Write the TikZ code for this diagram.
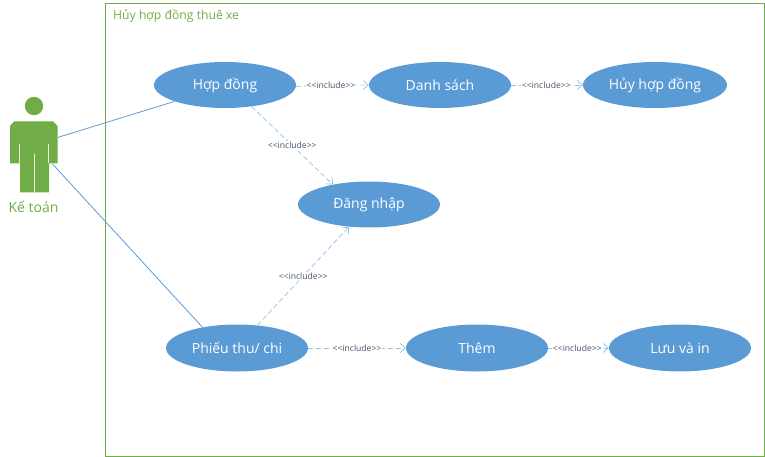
\documentclass[tikz,border=0pt]{standalone}
\usepackage{fontspec}
\setmainfont{Open Sans}
\usetikzlibrary{shapes.geometric,arrows.meta}
\definecolor{ucblue}{HTML}{5B9BD5}
\definecolor{ucgreen}{HTML}{70AD47}
\definecolor{lblcol}{HTML}{44546A}
\tikzset{
  uc/.style={ellipse,fill=ucblue,text=white,inner sep=0pt,minimum width=142pt,minimum height=46pt,font=\fontsize{14}{16}\selectfont},
  inc/.style={draw=ucblue!65,line width=0.7pt,dash pattern=on 5pt off 3pt,-{Straight Barb[length=5pt,width=9pt]}},
  lbl/.style={fill=white,inner sep=1pt,text=lblcol,font=\fontsize{8.6}{10}\selectfont},
  assoc/.style={draw=ucblue,line width=0.8pt},
  actorgap/.style={draw=white!85!ucgreen,line width=0.9pt},
}
\newcommand{\inclabel}{<{}<include>{}>}
\begin{document}
\begin{tikzpicture}[x=1pt,y=-1pt]
\useasboundingbox (0,0) rectangle (765,457);
\node[draw=ucgreen,line width=1pt,minimum width=658.5pt,minimum height=452.5pt,inner sep=0pt,anchor=north west] (frame) at (105.2,3.5) {};
\node[anchor=west,text=ucgreen,inner sep=0pt,font=\fontsize{12.2}{14}\selectfont] (title) at (113,16) {Hủy hợp đồng thuê xe};
\node[uc] (hd) at (225,85) {Hợp đồng};
\node[uc] (ds) at (440,85) {Danh sách};
\node[uc,minimum width=144pt] (huy) at (655,85) {Hủy hợp đồng};
\node[uc] (dn) at (369,204.5) {Đăng nhập};
\node[uc,minimum height=47pt] (ptc) at (237,348) {Phiếu thu/ chi};
\node[uc,minimum height=47pt] (them) at (477,348) {Thêm};
\node[uc,minimum height=47pt] (luu) at (680,348) {Lưu và in};
% actor
\fill[ucgreen] (34,106) circle (9.2);
\fill[ucgreen] (14,121.5) -- (53,121.5) -- (57.5,126) -- (57.5,163.5) -- (49,163.5) -- (49,192.5) -- (20,192.5) -- (20,163.5) -- (10,163.5) -- (10,126) -- cycle;
\draw[actorgap] (19.5,144.5) -- (19.5,163.5);
\draw[actorgap] (48.5,144.5) -- (48.5,163.5);
\draw[actorgap] (34,154) -- (34,192.5);
\coordinate (armr) at (57.5,137.5);
\coordinate (armb) at (52.5,164);
\node[text=ucgreen,inner sep=0pt,font=\fontsize{14}{16}\selectfont] (ketoan) at (33.5,207) {Kế toán};
% connectors
\draw[assoc] (armr) -- (hd.-162);
\draw[assoc] (armb) -- (ptc.149);
\draw[inc] (hd.-1) -- node[lbl,pos=.48] {\inclabel} (ds.west);
\draw[inc] (ds.east) -- node[lbl,pos=.49] {\inclabel} (huy.west);
\draw[inc] (hd.-39) -- node[lbl,pos=.5] {\inclabel} (dn.151);
\draw[inc] (ptc.48) -- node[lbl,pos=.5] {\inclabel} (dn.-132);
\draw[inc] (ptc.east) -- node[lbl,pos=.5] {\inclabel} (them.west);
\draw[inc] (them.east) -- node[lbl,pos=.48] {\inclabel} (luu.west);
\end{tikzpicture}
\end{document}
